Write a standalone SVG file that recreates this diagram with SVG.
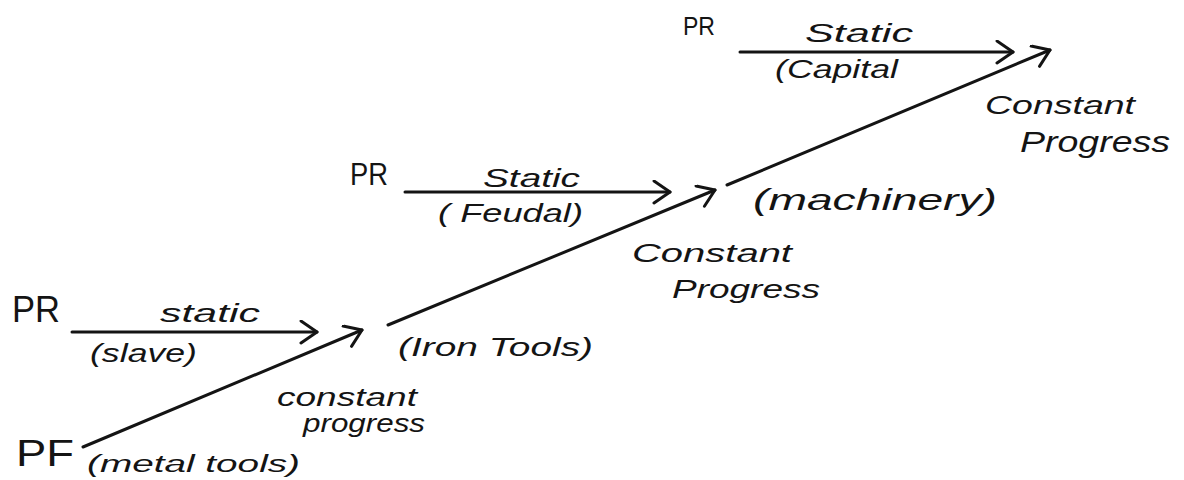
<svg xmlns="http://www.w3.org/2000/svg" width="1184" height="480" viewBox="0 0 1184 480">
<style>
text { font-family: "Liberation Sans", Arial, sans-serif; font-style: italic; fill: #141414; }
.lbl { font-size: 26px; }
.big { font-size: 36px; font-style: normal; }
.conn line { stroke: #141414; stroke-width: 3; stroke-linecap: round; fill: none; }
</style>
<defs>
<marker id="arr" markerUnits="userSpaceOnUse" markerWidth="24" markerHeight="28" refX="18" refY="12" orient="auto" viewBox="0 0 24 28">
<path d="M2,1 L18,12 L2,23" fill="none" stroke="#141414" stroke-width="3" stroke-linecap="round" stroke-linejoin="round"/>
</marker>
</defs>
<rect width="1184" height="480" fill="#ffffff"/>

<g id="connectors" class="conn">
<line x1="72" y1="332" x2="317" y2="332" marker-end="url(#arr)"/>
<line x1="83" y1="447" x2="362" y2="330" marker-end="url(#arr)"/>
<line x1="405" y1="192" x2="670" y2="192" marker-end="url(#arr)"/>
<line x1="388" y1="325" x2="715" y2="190" marker-end="url(#arr)"/>
<line x1="740" y1="52" x2="1013" y2="52" marker-end="url(#arr)"/>
<line x1="727" y1="185" x2="1050" y2="50" marker-end="url(#arr)"/>
</g>

<g id="pf-metal">
<text class="big" x="16" y="466" textLength="58" lengthAdjust="spacingAndGlyphs">PF</text>
<text class="lbl" x="87" y="472" style="font-size:23px" textLength="213" lengthAdjust="spacingAndGlyphs">(metal tools)</text>
</g>

<g id="pr-slave">
<text class="big" x="12" y="322" textLength="48" lengthAdjust="spacingAndGlyphs">PR</text>
<text class="lbl" x="160" y="322" textLength="100" lengthAdjust="spacingAndGlyphs">static</text>
<text class="lbl" x="90" y="362" textLength="107" lengthAdjust="spacingAndGlyphs">(slave)</text>
</g>

<g id="progress-1">
<text class="lbl" x="277" y="406" textLength="140" lengthAdjust="spacingAndGlyphs">constant</text>
<text class="lbl" x="303" y="432" textLength="122" lengthAdjust="spacingAndGlyphs">progress</text>
</g>

<g id="iron-tools">
<text class="lbl" x="398" y="356" textLength="195" lengthAdjust="spacingAndGlyphs">(Iron Tools)</text>
</g>

<g id="pr-feudal">
<text class="big" x="350" y="185" style="font-size:32px" textLength="38" lengthAdjust="spacingAndGlyphs">PR</text>
<text class="lbl" x="483" y="187" textLength="97" lengthAdjust="spacingAndGlyphs">Static</text>
<text class="lbl" x="438" y="222" textLength="145" lengthAdjust="spacingAndGlyphs">( Feudal)</text>
</g>

<g id="progress-2">
<text class="lbl" x="632" y="262" textLength="160" lengthAdjust="spacingAndGlyphs">Constant</text>
<text class="lbl" x="672" y="298" textLength="148" lengthAdjust="spacingAndGlyphs">Progress</text>
</g>

<g id="machinery">
<text class="lbl" x="753" y="210" style="font-size:30px" textLength="244" lengthAdjust="spacingAndGlyphs">(machinery)</text>
</g>

<g id="pr-capital">
<text class="big" x="683" y="35" style="font-size:26px" textLength="32" lengthAdjust="spacingAndGlyphs">PR</text>
<text class="lbl" x="805" y="42" textLength="108" lengthAdjust="spacingAndGlyphs">Static</text>
<text class="lbl" x="775" y="78" textLength="123" lengthAdjust="spacingAndGlyphs">(Capital</text>
</g>

<g id="progress-3">
<text class="lbl" x="985" y="114" textLength="150" lengthAdjust="spacingAndGlyphs">Constant</text>
<text class="lbl" x="1020" y="152" style="font-size:30px" textLength="150" lengthAdjust="spacingAndGlyphs">Progress</text>
</g>
</svg>
